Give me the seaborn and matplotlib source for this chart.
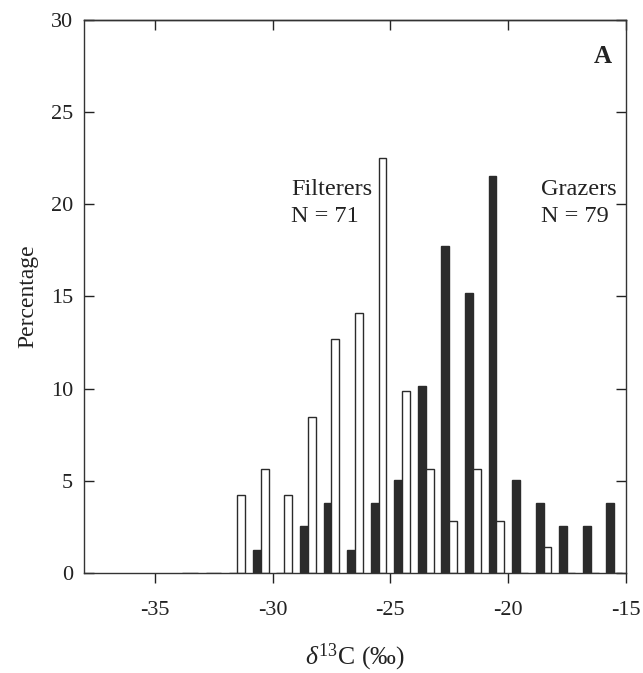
import matplotlib
matplotlib.use("Agg")
import matplotlib.pyplot as plt
import seaborn as sns
import pandas as pd
import numpy as np

# bin centres (1 per mil bins)
bins = [-33.5, -32.5, -31.5, -30.5, -29.5, -28.5, -27.5, -26.5, -25.5, -24.5,
        -23.5, -22.5, -21.5, -20.5, -19.5, -18.5, -17.5, -16.5, -15.5]
# percentages
grazers = [0, 0, 0, 1.27, 0, 2.53, 3.80, 1.27, 3.80, 5.06,
           10.13, 17.72, 15.19, 21.52, 5.06, 3.80, 2.53, 2.53, 3.80]
filterers = [0, 0, 4.23, 5.63, 4.23, 8.45, 12.68, 14.08, 22.54, 9.86,
             5.63, 2.82, 5.63, 2.82, 0, 1.41, 0, 0, 0]
groups = ["Grazers", "Filterers"]
xticks = [-35, -30, -25, -20, -15]
yticks = [0, 5, 10, 15, 20, 25, 30]

sns.set_style("ticks")
plt.rcParams["font.family"] = ["Liberation Serif", "DejaVu Serif"]
plt.rcParams["axes.unicode_minus"] = False
plt.rcParams["mathtext.fontset"] = "custom"
plt.rcParams["mathtext.rm"] = "Liberation Serif"
plt.rcParams["mathtext.it"] = "Liberation Serif:italic"

df = pd.DataFrame({
    "bin": bins * 2,
    "pct": grazers + filterers,
    "group": [groups[0]] * len(bins) + [groups[1]] * len(bins),
})

fig = plt.figure(figsize=(6.43, 6.73), dpi=100)
ax = fig.add_axes([0.1306, 0.1486, 0.843, 0.8217])

sns.barplot(data=df, x="bin", y="pct", hue="group", hue_order=groups,
            native_scale=True, width=0.67, dodge=True,
            palette={"Grazers": "#2b2b2b", "Filterers": "white"},
            edgecolor="#2b2b2b", linewidth=1.0, errorbar=None,
            legend=False, ax=ax)

ax.set_xlim(-38, -15)
ax.set_ylim(0, 30)
ax.set_xticks(xticks)
ax.set_xticklabels([str(t) for t in xticks])
ax.set_yticks(yticks)
ax.set_yticklabels([str(t) for t in yticks])

for s in ax.spines.values():
    s.set_visible(True)
    s.set_linewidth(1.0)
    s.set_color("#333333")

ax.tick_params(axis="x", direction="out", length=7, width=1, labelsize=16,
               pad=13, colors="#222222")
ax.tick_params(axis="y", direction="in", length=7, width=1, labelsize=16,
               right=True, pad=8, colors="#222222")
sec = ax.secondary_xaxis("top")
sec.set_xticks(xticks)
sec.tick_params(direction="in", length=7, width=1, labelsize=0, labeltop=False)
sec.spines["top"].set_linewidth(1.0)

ax.set_xlabel(r"$\delta^{13}$C (‰)", fontsize=18.5, labelpad=16, color="#222222")
ax.set_ylabel("Percentage", fontsize=17, labelpad=9, color="#222222")

ax.text(-29.2, 21.4, "Filterers\nN = 71", fontsize=17.5, va="top", ha="left",
        linespacing=1.4, color="#222222")
ax.text(-18.6, 21.4, "Grazers\nN = 79", fontsize=17.5, va="top", ha="left",
        linespacing=1.4, color="#222222")
ax.text(-15.6, 28.0, "A", fontsize=18, fontweight="bold", va="center",
        ha="right", color="#222222")

fig.savefig("out.png", dpi=100)
